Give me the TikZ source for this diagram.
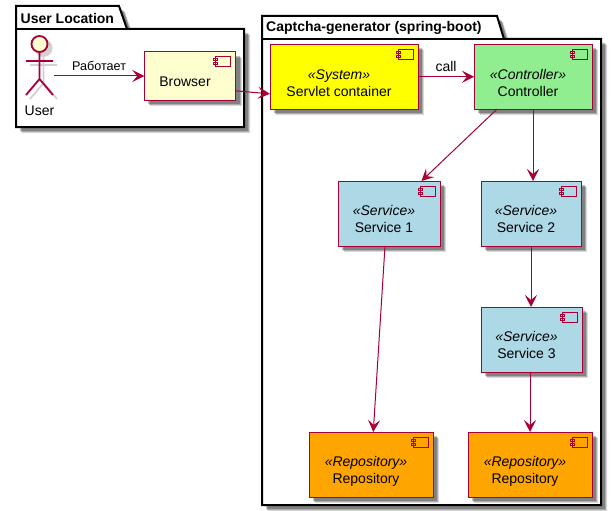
\documentclass[tikz,border=0pt]{standalone}
\usepackage{fontspec}
\setmainfont{Liberation Sans}
\usepackage{xcolor}
\usepackage{tikz}
\usetikzlibrary{arrows.meta,shadows}
\definecolor{umlred}{HTML}{A80036}
\definecolor{umlcream}{HTML}{FEFECE}
\definecolor{servletfill}{HTML}{FFFF00}
\definecolor{servicefill}{HTML}{ADD8E6}
\definecolor{controlfill}{HTML}{90EE90}
\definecolor{repofill}{HTML}{FFA500}
\newcommand{\stype}[1]{\textit{«#1»}}
\newcommand{\comptext}[1]{\begin{tabular}[t]{@{}c@{\hspace{10pt}}}#1\end{tabular}}
\newcommand{\compicon}[1]{%
  \draw[icon] ([shift={(-20,5)}]#1.north east) rectangle ([shift={(-5,15)}]#1.north east);
  \draw[icon,fill=none] ([shift={(-22,7)}]#1.north east) rectangle ([shift={(-18,9)}]#1.north east);
  \draw[icon,fill=none] ([shift={(-22,11)}]#1.north east) rectangle ([shift={(-18,13)}]#1.north east);}
\tikzset{
  softshadow/.style={
    general shadow={shadow xshift=6pt,shadow yshift=-6pt,fill=black,opacity=.15},
    general shadow={shadow xshift=5pt,shadow yshift=-5pt,fill=black,opacity=.2},
    general shadow={shadow xshift=4pt,shadow yshift=-4pt,fill=black,opacity=.25}},
  comp/.style={rectangle,draw=umlred,line width=1pt,outer sep=0pt,inner sep=0pt,
    softshadow,text=black,text height=27pt,
    font=\fontsize{14}{17}\selectfont},
  icon/.style={draw=umlred,line width=1pt},
  package/.style={draw=black,line width=2pt,fill=white,line join=miter,softshadow},
  title/.style={anchor=west,inner sep=0pt,font=\fontsize{14}{17}\selectfont\bfseries},
  edge/.style={-{Stealth[length=12pt,width=12pt,inset=5pt]},draw=umlred,line width=1pt},
  edgetext/.style={inner sep=0pt,font=\fontsize{14}{17}\selectfont}
}
\begin{document}
\begin{tikzpicture}[x=1pt,y=-1pt]
        \useasboundingbox (0,0) rectangle (616,511);
        % packages
        \draw[package] (16,6) -- (119,6) -- (127,29) -- (244,29) -- (244,127) -- (16,127) -- cycle;
        \draw[line width=2pt] (16,29) -- (127,29);
        \node[title] (userpkg) at (20.5,18) {User Location};
        \draw[package] (262,16) -- (497,16) -- (504,39) -- (601,39) -- (601,505) -- (262,505) -- cycle;
        \draw[line width=2pt] (262,39) -- (504,39);
        \node[title] (genpkg) at (266,28) {Captcha-generator (spring-boot)};
        % actor
        \foreach \o/\c/\f in {4/black!18/black!18,0/umlred/umlcream}{
          \draw[line width=1.8pt,draw=\c,shift={(\o,\o)}] (39.5,52) -- (39.5,79)
            (26,61) -- (53,61) (26,95) -- (39.5,79) -- (53,95);
          \draw[line width=1.8pt,draw=\c,fill=\f,shift={(\o,\o)}] (39.5,44) circle (8);
        }
        \node[edgetext] (user) at (39.5,111) {User};
        \coordinate (userarm) at (54,76);
        % components
        \node[comp,fill=umlcream,minimum width=91.5pt,minimum height=48pt] (browser) at (190,76) {\comptext{Browser}};
        \node[comp,fill=servletfill,minimum width=148pt,minimum height=64.5pt] (servlet) at (344,76.75) {\comptext{\stype{System}\\Servlet container}};
        \node[comp,fill=controlfill,minimum width=118pt,minimum height=64.5pt] (ctl) at (533,76.75) {\comptext{\stype{Controller}\\Controller}};
        \node[comp,fill=servicefill,minimum width=102pt,minimum height=65pt] (svc1) at (389,213.5) {\comptext{\stype{Service}\\Service 1}};
        \node[comp,fill=servicefill,minimum width=100pt,minimum height=65pt] (svc2) at (531,213.5) {\comptext{\stype{Service}\\Service 2}};
        \node[comp,fill=servicefill,minimum width=101pt,minimum height=65pt] (svc3) at (531.5,339.5) {\comptext{\stype{Service}\\Service 3}};
        \node[comp,fill=repofill,minimum width=124pt,minimum height=65pt] (repo1) at (371,464.5) {\comptext{\stype{Repository}\\Repository}};
        \node[comp,fill=repofill,minimum width=124pt,minimum height=65pt] (repo2) at (530,464.5) {\comptext{\stype{Repository}\\Repository}};
        \foreach \n in {browser,servlet,ctl,svc1,svc2,svc3,repo1,repo2}{
          \compicon{\n}
        }
        % connectors
        \draw[edge] (userarm) -- node[edgetext,above=5pt,font=\fontsize{12.6}{17}\selectfont] (worklabel) {Работает} (browser.west);
        \draw[edge] (browser.-18.8) -- (servlet.193.9);
        \draw[edge] (servlet.east) -- node[edgetext,above=5pt] (calllabel) {call} (ctl.west);
        \draw[edge] (ctl.222.7) -- (svc1.45);
        \draw[edge] (ctl.south) -- (ctl.south |- svc2.north);
        \draw[edge] (svc2.south) -- (svc3.north -| svc2.south);
        \draw[edge] (svc3.south -| repo2.north) -- (repo2.north);
        \draw[edge] (svc1.-97) -- (repo1.86.5);
\end{tikzpicture}
\end{document}
